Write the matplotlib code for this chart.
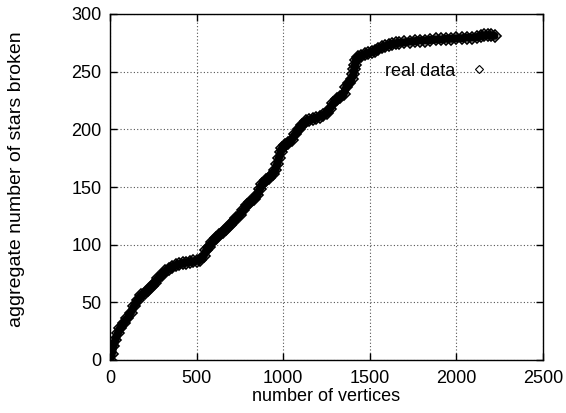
import matplotlib
matplotlib.use('Agg')
import matplotlib.pyplot as plt
import numpy as np

#---    Data: aggregate stars broken vs number of vertices
vertices = [0, 10, 20, 30, 45, 60, 80, 100, 120, 140, 160, 180, 200, 220, 240, 260, 280, 300,
            320, 340, 360, 380, 400, 420, 440, 460, 480, 500, 520, 540, 555, 570, 590, 610,
            630, 650, 670, 690, 710, 730, 750, 770, 790, 810, 830, 850, 865, 880, 900, 920,
            940, 955, 965, 975, 985, 995, 1010, 1030, 1050, 1070, 1090, 1110, 1130, 1150,
            1170, 1190, 1210, 1230, 1250, 1270, 1290, 1310, 1330, 1350, 1365, 1380, 1395,
            1405, 1410, 1415, 1420, 1430, 1450, 1470, 1490, 1510, 1530, 1550, 1570, 1590,
            1610, 1630, 1650, 1670, 1700, 1730, 1760, 1790, 1820, 1850, 1880, 1910, 1940,
            1970, 2000, 2030, 2060, 2090, 2120, 2140, 2160, 2180, 2200, 2220]
stars = [0, 5, 12, 17, 23, 28, 32, 36, 41, 47, 52, 56, 58, 61, 64, 67, 71, 74,
         77, 79, 81, 82, 83, 84, 84.5, 85, 85.5, 86, 87, 90, 95, 98, 102, 106,
         108, 111, 114, 117, 120, 123, 126, 130, 134, 137, 140, 143, 148, 153, 156, 158,
         161, 165, 170, 175, 180, 184, 186, 188, 191, 196, 200, 204, 207, 208,
         209, 210, 211, 212, 214, 218, 223, 226, 228, 231, 237, 240, 244,
         248, 252, 256, 260, 263, 264, 265, 266, 267, 268, 270, 271, 272,
         273, 274, 274.5, 275, 275.5, 276, 276.5, 277, 277, 277.5, 278, 278, 278.5,
         278.5, 279, 279, 279.5, 279.5, 280, 281, 281.5, 281.5, 281.5, 281]

plt.rcParams['font.family'] = ['Liberation Sans', 'DejaVu Sans']
plt.rcParams['font.size'] = 13

fig = plt.figure(figsize=(5.66, 4.13), dpi=100)
ax = fig.add_axes([110/566, 1 - 360/413, 433/566, 346/413])

# dense run of points: thick band with diamond outlines on its edge
ax.plot(vertices, stars, color='black', linewidth=5.8, solid_capstyle='round',
        solid_joinstyle='round')
ax.plot(vertices, stars, linestyle='none', marker='D', markersize=6.5,
        markerfacecolor='none', markeredgecolor='black', markeredgewidth=1.2,
        label='real data')

ax.set_xlim(0, 2500)
ax.set_ylim(0, 300)
ax.set_xticks(range(0, 2501, 500))
ax.set_yticks(range(0, 301, 50))
ax.grid(True, linestyle=(0, (1, 2)), color='#555555', linewidth=0.8)
ax.set_axisbelow(True)
ax.tick_params(direction='in', top=True, right=True, length=5, width=1, labelsize=13)
ax.tick_params(axis='x', pad=7)
ax.tick_params(axis='y', pad=6)
for s in ax.spines.values():
    s.set_linewidth(1.0)

ax.set_xlabel('number of vertices', fontsize=13, labelpad=1)
ax.set_ylabel('aggregate number of stars broken', fontsize=14)
ax.yaxis.set_label_coords(-0.196, 0.523)

leg = ax.legend(loc='center right', bbox_to_anchor=(0.883, 0.835), frameon=False,
                markerfirst=False, handlelength=1.5, handletextpad=0.58,
                borderpad=0, borderaxespad=0, fontsize=13)
for h in leg.legend_handles:
    h.set_markersize(4)
    h.set_markeredgewidth(0.8)

plt.savefig('out.png', dpi=100)
